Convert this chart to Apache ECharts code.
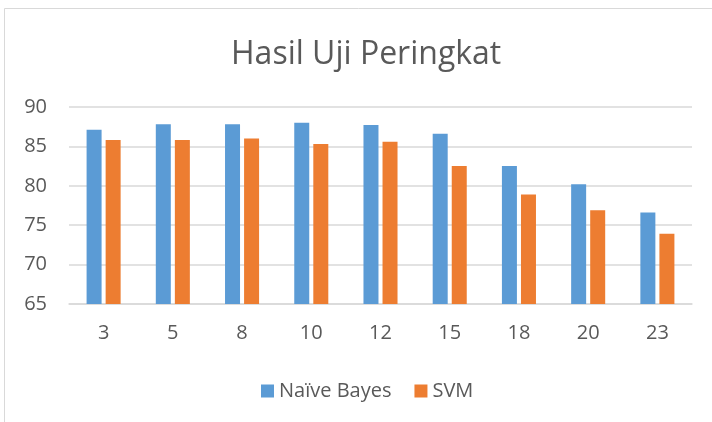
<!DOCTYPE html>
<html>
<head>
<meta charset="utf-8">
<script src="https://cdn.jsdelivr.net/npm/echarts@6/dist/echarts.min.js"></script>
<style>
  html, body { margin: 0; padding: 0; background: #fff; }
  #chart { width: 712px; height: 422px; }
</style>
</head>
<body>
<div id="chart"></div>
<script>
// data
var categories = ['3', '5', '8', '10', '12', '15', '18', '20', '23'];
var naiveBayes = [87.1, 87.8, 87.8, 88.0, 87.7, 86.6, 82.5, 80.2, 76.6];
var svm = [85.8, 85.8, 86.0, 85.3, 85.6, 82.5, 78.9, 76.9, 73.9];
var seriesNames = ['Naïve Bayes', 'SVM'];

var chart = echarts.init(document.getElementById('chart'));
var textColor = '#595959';
var fontFamily = '"Open Sans", sans-serif';

var option = {
    animation: false,
    title: {
        text: 'Hasil Uji Peringkat',
        left: 226,
        top: 34,
        textStyle: {
            fontFamily: fontFamily,
            fontWeight: 'normal',
            fontSize: 32,
            color: textColor
        }
    },
    color: ['#5B9BD5', '#ED7D31'],
    legend: {
        data: seriesNames,
        left: 256,
        top: 376,
        icon: 'rect',
        itemWidth: 13,
        itemHeight: 13,
        itemGap: 23,
        textStyle: {
            fontFamily: fontFamily,
            fontSize: 20,
            color: textColor
        }
    },
    grid: {
        left: 69,
        right: 20,
        top: 107,
        bottom: 118
    },
    xAxis: {
        type: 'category',
        data: categories,
        axisLine: { lineStyle: { color: '#D9D9D9', width: 1.5 } },
        axisTick: { show: false },
        axisLabel: {
            margin: 19,
            fontFamily: fontFamily,
            fontSize: 20,
            color: textColor
        }
    },
    yAxis: {
        type: 'value',
        min: 65,
        max: 90,
        interval: 5,
        axisLine: { show: false },
        axisTick: { show: false },
        splitLine: { lineStyle: { color: '#D9D9D9', width: 1.5 } },
        axisLabel: {
            margin: 22,
            fontFamily: fontFamily,
            fontSize: 20,
            color: textColor
        }
    },
    graphic: [{
        type: 'rect',
        shape: { x: 4.5, y: 8.5, width: 760, height: 460 },
        style: { fill: 'none', stroke: '#D9D9D9', lineWidth: 1 },
        silent: true
    }],
    series: [
        {
            name: seriesNames[0],
            type: 'bar',
            barWidth: 15,
            barGap: '27%',
            data: naiveBayes
        },
        {
            name: seriesNames[1],
            type: 'bar',
            barWidth: 15,
            barGap: '27%',
            data: svm
        }
    ]
};

chart.setOption(option);
</script>
</body>
</html>
